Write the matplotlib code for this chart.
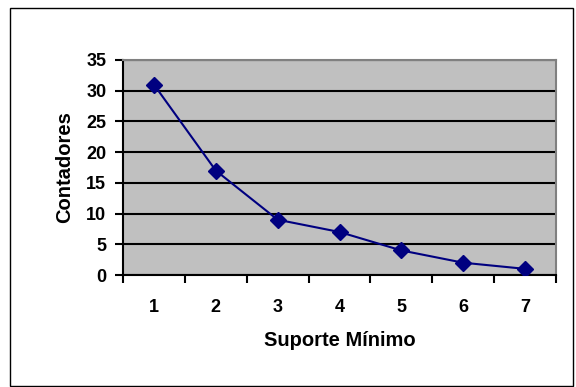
import numpy as np
import matplotlib
matplotlib.use('Agg')
import matplotlib.pyplot as plt
from matplotlib.patches import Rectangle

suporte = ['1', '2', '3', '4', '5', '6', '7']
contadores = [31, 17, 9, 7, 4, 2, 1]
yticks = [0, 5, 10, 15, 20, 25, 30, 35]

plt.rcParams['font.family'] = ['Liberation Sans', 'DejaVu Sans']
plt.rcParams['font.weight'] = 'bold'

fig = plt.figure(figsize=(5.76, 3.87), dpi=100)
fig.patches.append(Rectangle((10/576, 0.002), 563/576, 1 - 8/387 - 0.002,
                             transform=fig.transFigure, fill=False,
                             edgecolor='k', linewidth=1.0))

ax = fig.add_axes([123/576, 1 - 275/387, (556 - 123)/576, (275 - 60)/387])
ax.set_facecolor('#c0c0c0')

x = np.arange(len(suporte)) + 0.5
ax.plot(x, contadores, color='#000080', linewidth=1.5, marker='D',
        markersize=8, zorder=3)

ax.set_xlim(0, len(suporte))
ax.set_ylim(0, 35)
ax.set_yticks(yticks)
ax.set_xticks(np.arange(len(suporte) + 1))
ax.set_xticklabels([])
ax.set_xticks(x, minor=True)
ax.set_xticklabels(suporte, minor=True)
ax.tick_params(axis='x', which='minor', length=0, pad=17, labelsize=13)
ax.tick_params(axis='x', which='major', length=6, width=1.5, direction='out')
ax.tick_params(axis='y', length=6, width=1.5, direction='out', labelsize=13, pad=6)
for t in ax.get_xticklabels(minor=True) + ax.get_yticklabels():
    t.set_fontweight('bold')

ax.grid(axis='y', color='k', linewidth=1.5)
ax.set_axisbelow(True)
ax.spines['left'].set_linewidth(1.5)
ax.spines['bottom'].set_linewidth(1.5)
ax.spines['top'].set_color('#808080')
ax.spines['right'].set_color('#808080')
ax.spines['top'].set_linewidth(1.5)
ax.spines['right'].set_linewidth(1.5)

ax.set_xlabel('Suporte Mínimo', fontsize=14.5, fontweight='bold', labelpad=11)
ax.set_ylabel('Contadores', fontsize=14.5, fontweight='bold', labelpad=9)

fig.savefig('out.png', dpi=100)
